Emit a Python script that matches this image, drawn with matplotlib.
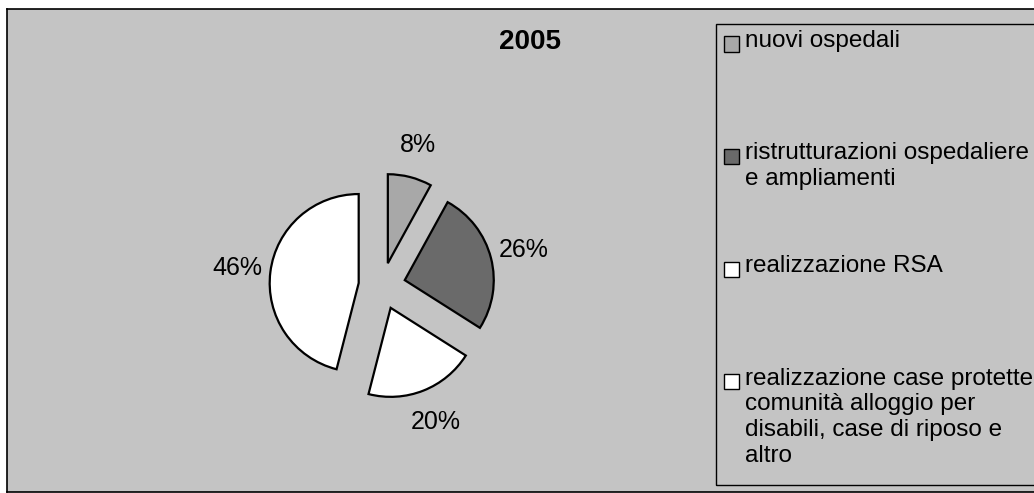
import matplotlib.pyplot as plt
from matplotlib.patches import Rectangle

plt.rcParams["font.family"] = ["Liberation Sans", "DejaVu Sans"]

# data
categories = [
    "nuovi ospedali",
    "ristrutturazioni ospedaliere\ne ampliamenti",
    "realizzazione RSA",
    "realizzazione case protette\ncomunità alloggio per\ndisabili, case di riposo e\naltro",
]
shares = [8, 26, 20, 46]
slice_colors = ["#a8a8a8", "#6a6a6a", "#ffffff", "#ffffff"]
title = "2005"

W, H = 1034, 493
fig = plt.figure(figsize=(W / 100, H / 100), dpi=100, facecolor="white")


def box(x0, y0, x1, y1):
    # pixel box (image coords, y down) -> figure fraction rect
    return [x0 / W, 1 - y1 / H, (x1 - x0) / W, (y1 - y0) / H]


# chart area background
bg = fig.add_axes(box(7, 9, W + 2, 492))
bg.set_facecolor("#c4c4c4")
bg.set_xticks([])
bg.set_yticks([])
for s in bg.spines.values():
    s.set_linewidth(1.2)
    s.set_color("black")

# pie: centre at (382, 286) px, radius 89 px
cx, cy, r_px, half = 382, 286, 89, 200
ax = fig.add_axes(box(cx - half, cy - half, cx + half, cy + half))
ax.patch.set_alpha(0)
wedges, _, pct_texts = ax.pie(
    shares,
    colors=slice_colors,
    startangle=90,
    counterclock=False,
    explode=[0.264] * len(shares),
    autopct="%.0f%%",
    pctdistance=1.376,
    wedgeprops=dict(edgecolor="black", linewidth=1.6),
    textprops=dict(fontsize=18, color="black"),
)
lim = half / r_px
ax.set_xlim(-lim, lim)
ax.set_ylim(-lim, lim)
ax.set_aspect("equal")
ax.axis("off")

fig.text(530 / W, 1 - 42 / H, title, fontsize=20, fontweight="bold",
         ha="center", va="center")

# legend box, entries on evenly spaced slots like Excel does
fig.patches.append(Rectangle((716 / W, 1 - 485 / H), (W + 10 - 716) / W, (485 - 24) / H,
                             transform=fig.transFigure, facecolor="none",
                             edgecolor="black", linewidth=1.0))
for i, (label, col) in enumerate(zip(categories, slice_colors)):
    yc = 44 + 112.5 * i
    fig.patches.append(Rectangle((724 / W, 1 - (yc + 7.5) / H), 15 / W, 15 / H,
                                 transform=fig.transFigure, facecolor=col,
                                 edgecolor="black", linewidth=1.0))
    fig.text(745 / W, 1 - (yc - 14) / H, label, fontsize=17.5, ha="left", va="top",
             linespacing=1.23)

fig.savefig("out.png", dpi=100, facecolor="white")
